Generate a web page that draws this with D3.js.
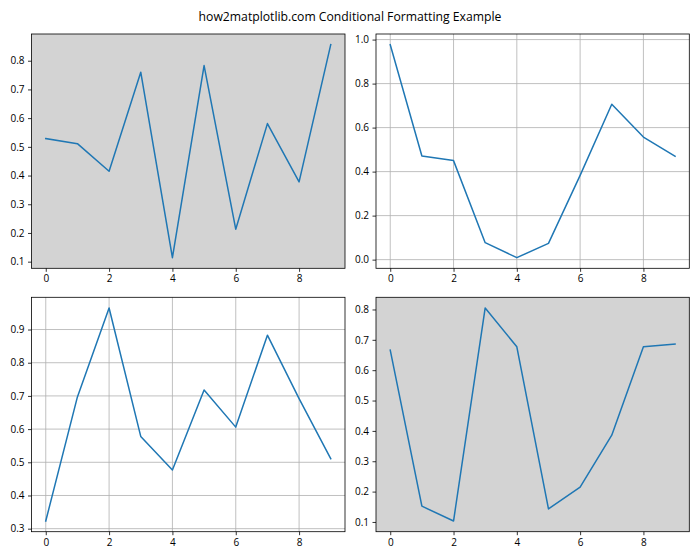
<!DOCTYPE html>
<html>
<head>
<meta charset="utf-8">
<script src="https://cdn.jsdelivr.net/npm/d3@7"></script>
<style>
  body { margin: 0; background: #fff; }
  text { font-family: "Open Sans", "Noto Sans", sans-serif; }
</style>
</head>
<body>
<svg id="chart" width="700" height="560"></svg>
<script>
const xValues = [0, 1, 2, 3, 4, 5, 6, 7, 8, 9];
const series1 = [0.529, 0.511, 0.415, 0.760, 0.114, 0.783, 0.213, 0.581, 0.378, 0.856];
const series2 = [0.977, 0.471, 0.450, 0.077, 0.009, 0.074, 0.383, 0.706, 0.557, 0.470];
const series3 = [0.323, 0.697, 0.965, 0.578, 0.477, 0.718, 0.606, 0.883, 0.692, 0.511];
const series4 = [0.666, 0.152, 0.103, 0.805, 0.677, 0.143, 0.215, 0.386, 0.677, 0.686];
const xTicks = [0, 2, 4, 6, 8];
const yTicks1 = [0.1, 0.2, 0.3, 0.4, 0.5, 0.6, 0.7, 0.8];
const yTicks2 = [0.0, 0.2, 0.4, 0.6, 0.8, 1.0];
const yTicks3 = [0.3, 0.4, 0.5, 0.6, 0.7, 0.8, 0.9];
const yTicks4 = [0.1, 0.2, 0.3, 0.4, 0.5, 0.6, 0.7, 0.8];
const titleText = "how2matplotlib.com Conditional Formatting Example";

const svg = d3.select("#chart");

svg.append("text")
  .attr("x", 350).attr("y", 21)
  .attr("text-anchor", "middle")
  .attr("font-size", 12.2)
  .attr("fill", "#000")
  .text(titleText);

const panels = [
  { vals: series1, ticks: yTicks1, box: [31.5, 34, 345, 268.3], bg: "#d3d3d3", grid: false },
  { vals: series2, ticks: yTicks2, box: [376, 34, 689.3, 268.3], bg: "#ffffff", grid: true },
  { vals: series3, ticks: yTicks3, box: [31.5, 297.3, 345, 531.7], bg: "#ffffff", grid: true },
  { vals: series4, ticks: yTicks4, box: [376, 297.3, 689.3, 531.7], bg: "#d3d3d3", grid: false }
];

panels.forEach(p => {
  const [x0, y0, x1, y1] = p.box;
  const xmin = d3.min(xValues), xmax = d3.max(xValues);
  const xm = (xmax - xmin) * 0.05;
  const ymin = d3.min(p.vals), ymax = d3.max(p.vals);
  const ym = (ymax - ymin) * 0.05;
  const x = d3.scaleLinear().domain([xmin - xm, xmax + xm]).range([x0, x1]);
  const y = d3.scaleLinear().domain([ymin - ym, ymax + ym]).range([y1, y0]);

  const g = svg.append("g");
  g.append("rect").attr("x", x0).attr("y", y0).attr("width", x1 - x0).attr("height", y1 - y0)
    .attr("fill", p.bg);

  if (p.grid) {
    g.selectAll(".vg").data(xTicks).join("line")
      .attr("x1", d => x(d)).attr("x2", d => x(d)).attr("y1", y0).attr("y2", y1)
      .attr("stroke", "#b0b0b0").attr("stroke-width", 0.8);
    g.selectAll(".hg").data(p.ticks).join("line")
      .attr("x1", x0).attr("x2", x1).attr("y1", d => y(d)).attr("y2", d => y(d))
      .attr("stroke", "#b0b0b0").attr("stroke-width", 0.8);
  }

  const line = d3.line().x((d, i) => x(xValues[i])).y(d => y(d));
  g.append("path").datum(p.vals).attr("d", line)
    .attr("fill", "none").attr("stroke", "#1f77b4").attr("stroke-width", 1.5)
    .attr("stroke-linejoin", "round").attr("stroke-linecap", "square");

  const xAxis = d3.axisBottom(x).tickValues(xTicks).tickSize(3.5).tickPadding(3.5).tickFormat(d3.format("d"));
  const yAxis = d3.axisLeft(y).tickValues(p.ticks).tickSize(3.5).tickPadding(3.5).tickFormat(d3.format(".1f"));

  const gx = g.append("g").attr("transform", `translate(0,${y1})`).call(xAxis);
  const gy = g.append("g").attr("transform", `translate(${x0},0)`).call(yAxis);
  [gx, gy].forEach(a => {
    a.select(".domain").remove();
    a.selectAll(".tick line").attr("stroke", "#000").attr("stroke-width", 0.8);
    a.selectAll(".tick text").attr("font-size", 10).attr("fill", "#000")
      .style("font-family", '"Open Sans", "Noto Sans", sans-serif');
  });

  g.append("rect").attr("x", x0).attr("y", y0).attr("width", x1 - x0).attr("height", y1 - y0)
    .attr("fill", "none").attr("stroke", "#000").attr("stroke-width", 0.8);
});
</script>
</body>
</html>
